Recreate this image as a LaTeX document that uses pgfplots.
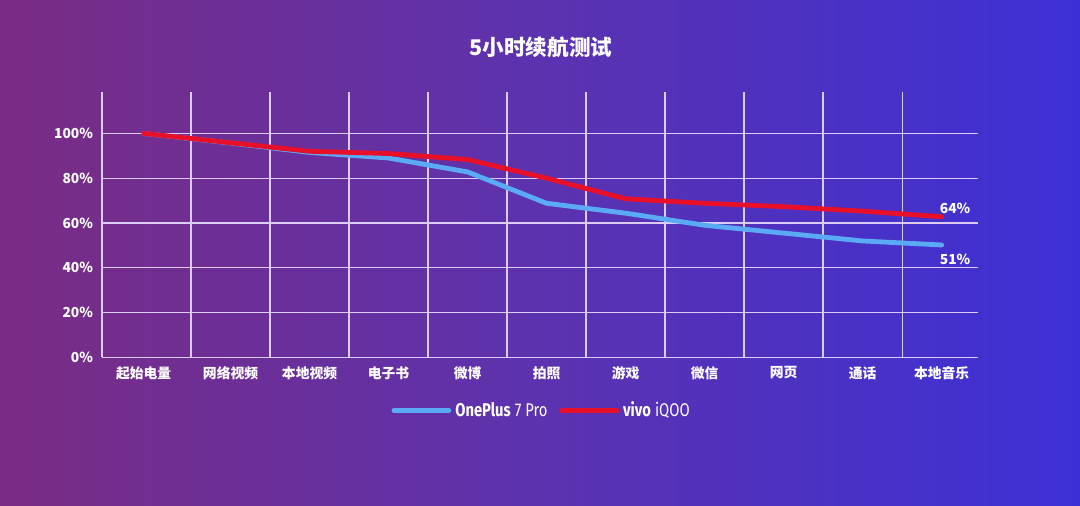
\documentclass[border=0pt]{standalone}
\usepackage{pgfplots}
\pgfplotsset{compat=1.18}
\usepackage{fontspec}
\setmainfont{Noto Sans CJK SC}
\newfontfamily\cond{Fira Sans}[FakeStretch=0.8]
\definecolor{bgL}{RGB}{122,44,132}
\definecolor{bgM}{RGB}{92,50,175}
\definecolor{bgR}{RGB}{60,48,214}
\definecolor{gridc}{RGB}{220,204,245}
\definecolor{opblue}{RGB}{90,170,245}
\definecolor{vred}{RGB}{232,16,40}
\begin{document}
\begin{tikzpicture}
\shade[left color=bgL, right color=bgR, middle color=bgM] (0pt,0pt) rectangle (540pt,253pt);
\path[use as bounding box] (0pt,0pt) rectangle (540pt,253pt);
\node[text=white, font=\bfseries\fontsize{10.8}{12}\selectfont] at (270.5pt,229.5pt) {5小时续航测试};
\begin{axis}[
  at={(51pt,74.25pt)}, anchor=south west,
  scale only axis, width=438pt, height=132.9pt,
  xmin=-0.627, xmax=10.46, ymin=0, ymax=118.6,
  axis x line=bottom, axis y line=left,
  axis line style={-, gridc, line width=0.8pt},
  xtick={-0.1,1,2,3,4,5,6,7,8,9,10},
  xticklabels={起始电量,网络视频,本地视频,电子书,微博,拍照,游戏,微信,网页,通话,本地音乐},
  minor xtick={0.5,1.5,...,9.5},
  minor x grid style={gridc, line width=0.65pt},
  xminorgrids=true,
  ytick={0,20,40,60,80,100},
  yticklabels={0\%,20\%,40\%,60\%,80\%,100\%},
  ymajorgrids=true,
  major grid style={gridc, line width=0.65pt},
  major tick length=0pt, minor tick length=0pt,
  tick label style={text=white, font=\bfseries\fontsize{6.9}{8}\selectfont},
  xticklabel style={yshift=-1pt},
  yticklabel style={xshift=-1pt},
  clip=false,
  legend columns=2,
  legend style={at={(0.503,-0.2)}, anchor=center, draw=none, fill=none,
    text=white, font=\fontsize{9.2}{11}\selectfont,
    /tikz/every even column/.append style={column sep=4pt}},
  legend image code/.code={\draw[#1] (0pt,0pt) -- (27.5pt,0pt);},
]
\addplot[opblue, line width=2.4pt, line join=round, line cap=round] coordinates {
  (-0.1,100) (1,95.7) (2,91.5) (3,89) (4,82.8) (5,68.8) (6,64.4) (7,59) (8,55.5) (9,52) (10,50.2)};
\addlegendentry{{\cond\bfseries OnePlus} {\cond 7 Pro}}
\addplot[vred, line width=2.4pt, line join=round, line cap=round] coordinates {
  (-0.1,100) (1,95.8) (2,92) (3,91) (4,88.3) (5,80) (6,70.8) (7,68.8) (8,67.3) (9,65.3) (10,62.8)};
\addlegendentry{{\cond\bfseries vivo} {\cond iQOO}}
\node[text=white, font=\bfseries\fontsize{6.9}{8}\selectfont] at (axis cs:10.17,66.4) {64\%};
\node[text=white, font=\bfseries\fontsize{6.9}{8}\selectfont] at (axis cs:10.17,44.0) {51\%};
\end{axis}
\end{tikzpicture}
\end{document}
